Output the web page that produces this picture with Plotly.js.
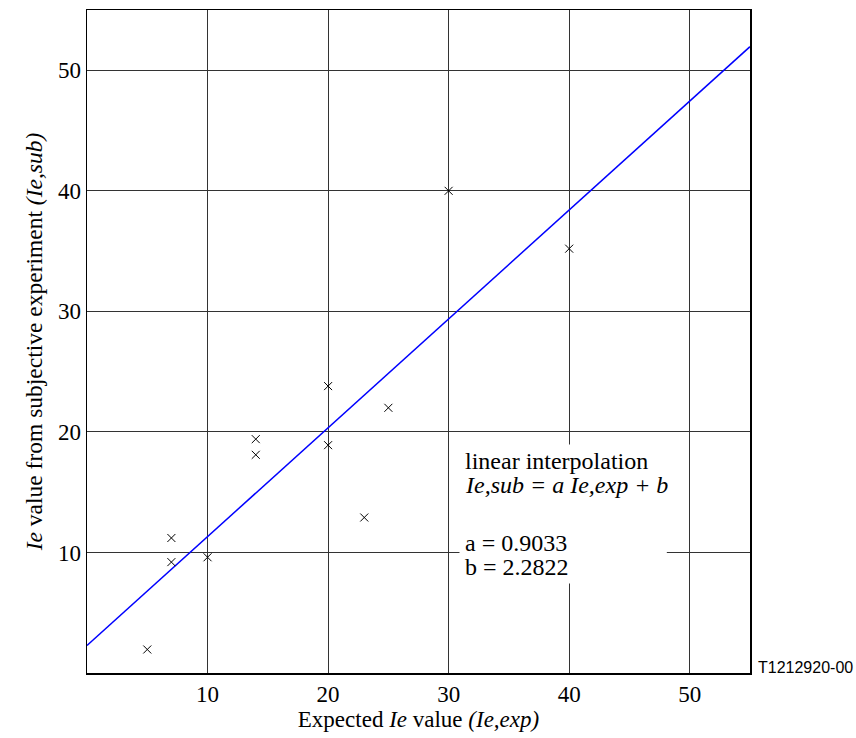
<!DOCTYPE html>
<html>
<head>
<meta charset="utf-8">
<script src="https://cdn.plot.ly/plotly-3.0.1.min.js"></script>
<style>html,body{margin:0;padding:0;background:#fff;}#chart{width:856px;height:738px;}</style>
</head>
<body>
<div id="chart"></div>
<script>
// Measured points: expected Ie vs. Ie from subjective experiment
const expectedIe = [5, 7, 7, 10, 14, 14, 20, 20, 23, 25, 30, 40];
const subjectiveIe = [1.95, 9.2, 11.2, 9.6, 19.4, 18.1, 23.8, 18.9, 12.9, 22.0, 40.0, 35.2];
// Fitted line endpoints
const fitX = [0, 55];
const fitY = [2.28, 51.96];
const tickVals = [10, 20, 30, 40, 50];
const tickText = ["10", "20", "30", "40", "50"];
const noteLines = [
  "linear interpolation",
  "<i>Ie,sub = a Ie,exp + b</i>",
  "a = 0.9033",
  "b = 2.2822"
];
const figId = "T1212920-00";

const serif = "Liberation Serif, Times New Roman, serif";

const traces = [
  {
    x: fitX, y: fitY, type: "scatter", mode: "lines",
    line: {color: "#0000ff", width: 1.5},
    hoverinfo: "skip", showlegend: false, cliponaxis: true
  },
  {
    x: expectedIe, y: subjectiveIe, type: "scatter", mode: "markers",
    marker: {symbol: "x-thin-open", size: 8, color: "#000", line: {color: "#000", width: 1}},
    showlegend: false
  }
];

const noteY = [17.6, 15.6, 10.8, 8.8];
const annotations = noteLines.map((t, i) => ({
  xref: "x", yref: "y", x: 31.2, y: noteY[i], xanchor: "left", yanchor: "middle",
  text: t, showarrow: false, font: {family: serif, size: 24, color: "#000"}
}));
annotations.push({
  xref: "paper", yref: "paper", x: 1, y: 0, xanchor: "left", yanchor: "middle",
  xshift: 6, yshift: 6, text: figId, showarrow: false,
  font: {family: "Liberation Sans, Arial, sans-serif", size: 16, color: "#000"}
});

const layout = {
  width: 856, height: 738,
  margin: {l: 87, r: 106, t: 10, b: 65},
  paper_bgcolor: "#fff", plot_bgcolor: "#fff",
  showlegend: false,
  xaxis: {
    range: [0, 55], tickvals: tickVals, ticktext: tickText, ticks: "",
    showgrid: true, gridcolor: "#333", gridwidth: 1, zeroline: false,
    showline: true, linecolor: "#000", linewidth: 1.5, mirror: true,
    tickfont: {family: serif, size: 23, color: "#000"},
    title: {text: "Expected <i>Ie</i> value <i>(Ie,exp)</i>", font: {family: serif, size: 23, color: "#000"}, standoff: 4}
  },
  yaxis: {
    range: [0, 55], tickvals: tickVals, ticktext: tickText, ticks: "",
    showgrid: true, gridcolor: "#333", gridwidth: 1, zeroline: false,
    showline: true, linecolor: "#000", linewidth: 1.5, mirror: true,
    tickfont: {family: serif, size: 23, color: "#000"},
    title: {text: "<i>Ie</i> value from subjective experiment <i>(Ie,sub)</i>", font: {family: serif, size: 23.5, color: "#000"}, standoff: 8}
  },
  shapes: [{
    type: "rect", xref: "x", yref: "y", x0: 30.9, x1: 48.1, y0: 7.43, y1: 18.96,
    fillcolor: "#fff", line: {width: 0}, layer: "above"
  }],
  annotations: annotations
};

Plotly.newPlot("chart", traces, layout, {displayModeBar: false, staticPlot: true});
</script>
</body>
</html>
